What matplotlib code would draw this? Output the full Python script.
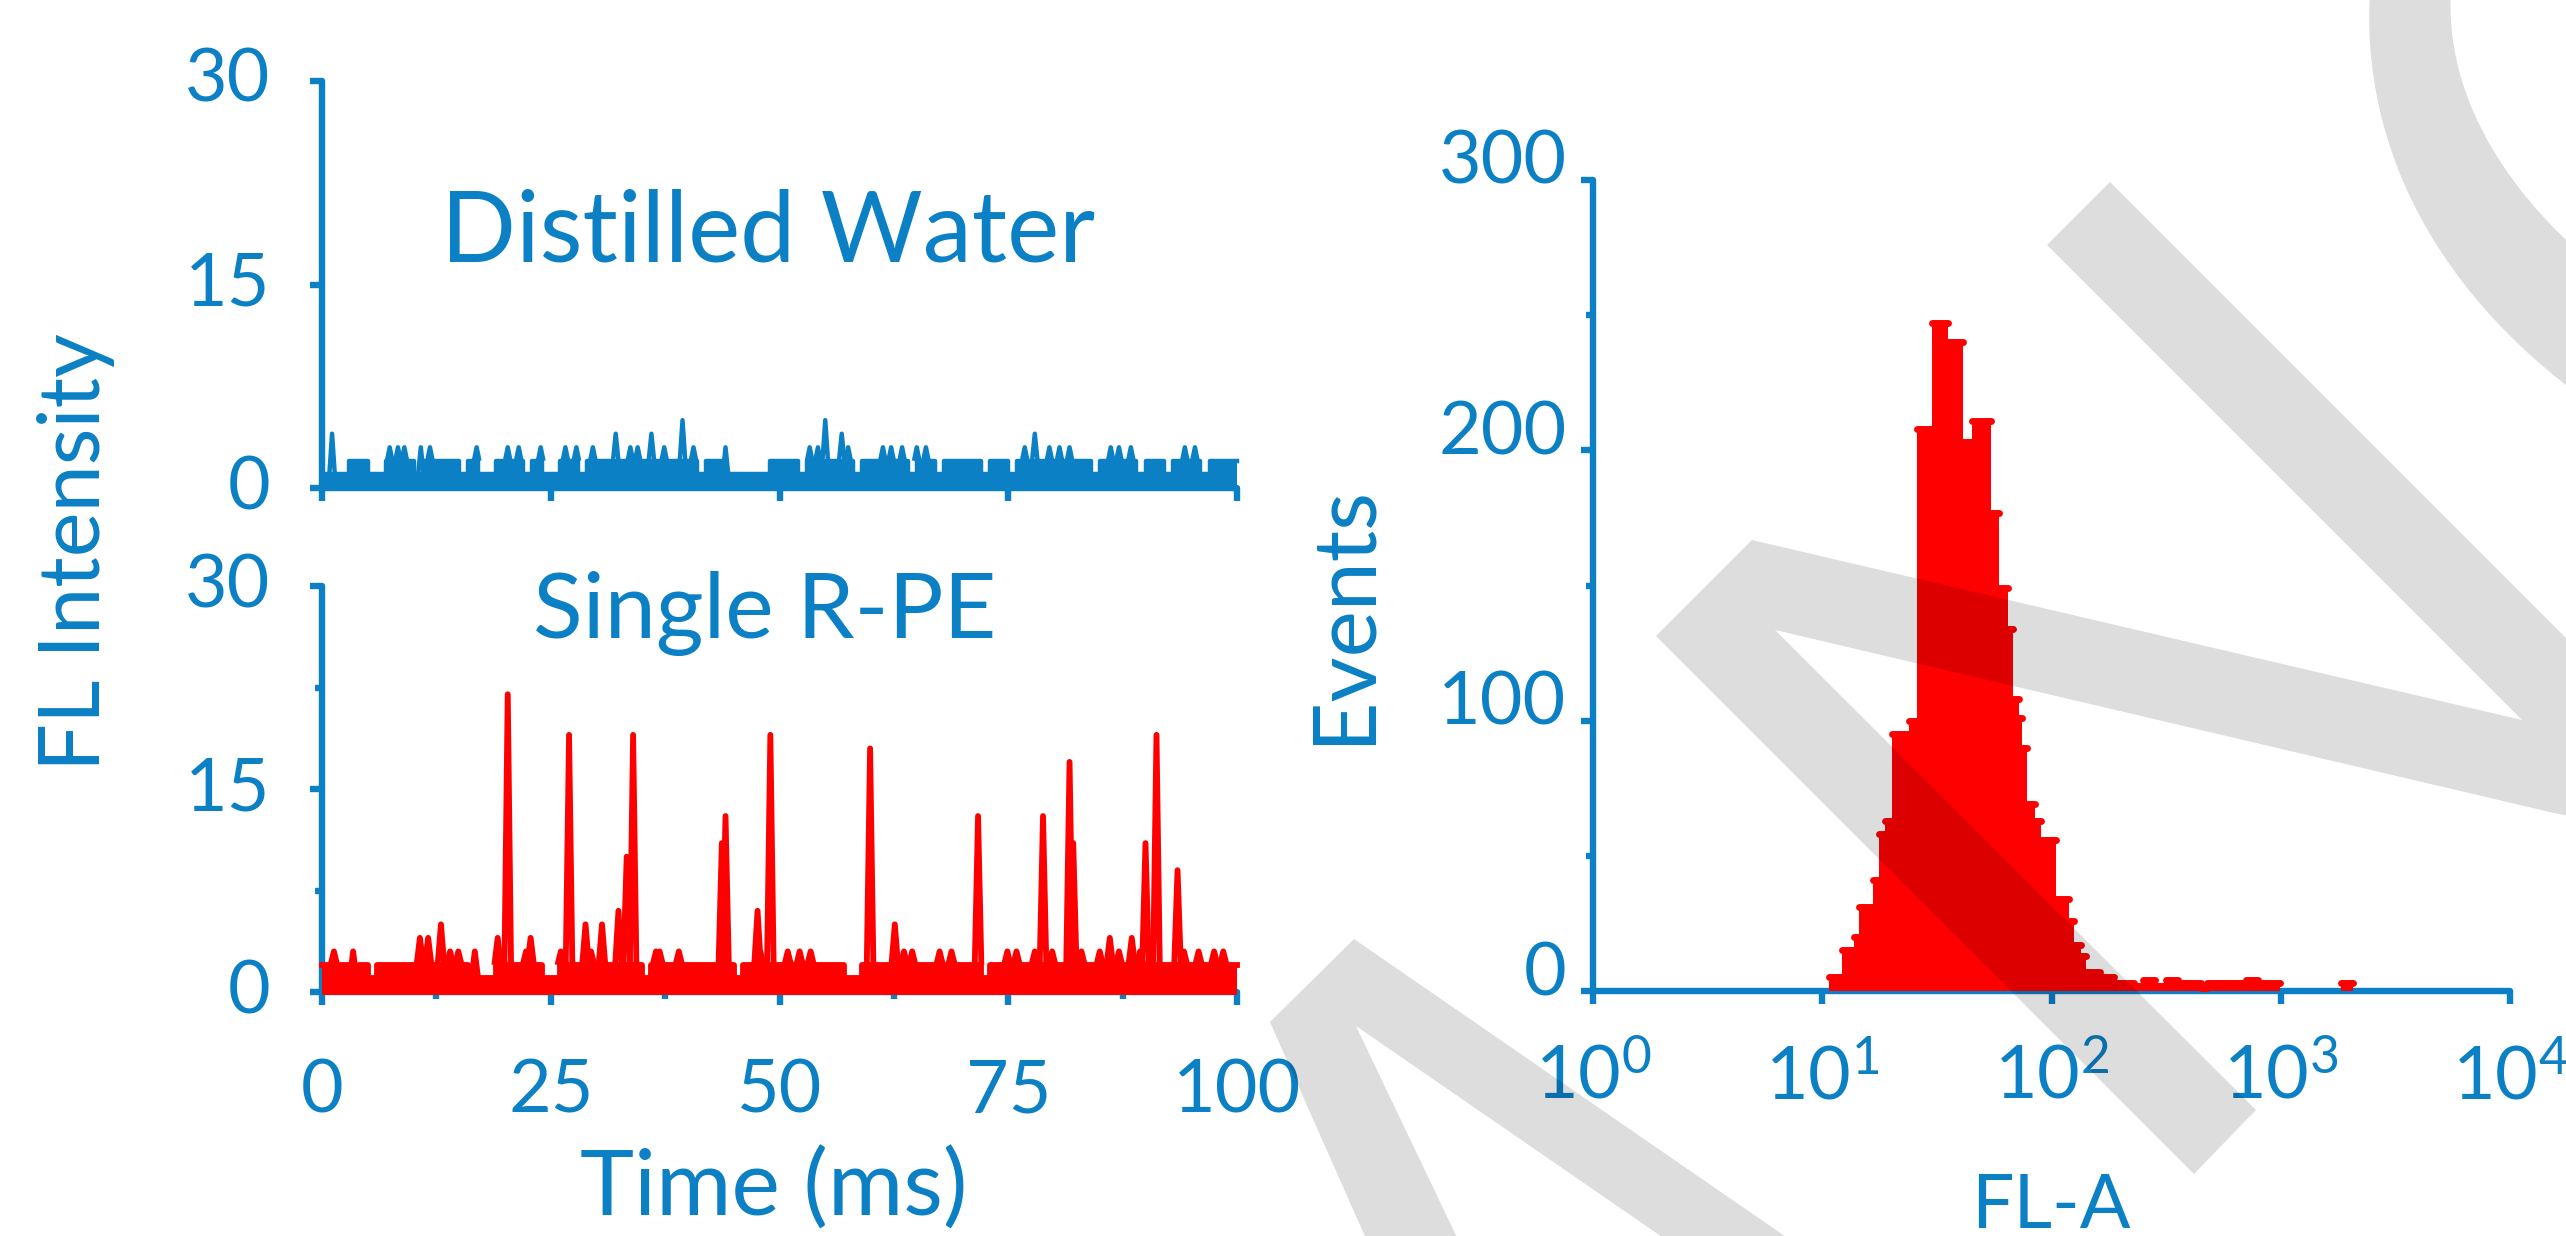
import numpy as np
import matplotlib
matplotlib.use("Agg")
import matplotlib.pyplot as plt
import matplotlib.ticker as mticker
import matplotlib.transforms as mtrans
from matplotlib.patches import Polygon, PathPatch
from matplotlib.path import Path

# ---------------- data ----------------
# time traces: baseline envelope at 1 ms resolution (counts), plus spikes (time ms, counts)
water_baseline = [1, 1, 1, 2, 2, 1, 1, 2, 2, 2,
                  1, 2, 2, 2, 2, 1, 2, 1, 1, 2,
                  2, 2, 1, 2, 1, 1, 2, 2, 1, 2,
                  2, 2, 2, 2, 2, 2, 2, 2, 2, 2,
                  2, 1, 2, 2, 1, 1, 1, 1, 1, 2,
                  2, 2, 1, 2, 2, 2, 2, 2, 1, 2,
                  2, 2, 2, 2, 1, 2, 2, 1, 2, 2,
                  2, 2, 1, 2, 2, 1, 2, 2, 2, 2,
                  2, 2, 2, 2, 1, 2, 2, 2, 2, 1,
                  2, 2, 1, 2, 2, 2, 1, 2, 2, 2]
water_spike_t = [1.1, 7.4, 8.3, 9.0, 10.8, 11.8, 16.9, 20.3, 21.5, 23.9, 26.6, 27.8, 29.6,
                 32.1, 33.7, 34.5, 36.0, 37.4, 39.4, 40.6, 44.1, 53.3, 54.2, 55.0, 56.8,
                 57.5, 61.3, 62.2, 63.4, 65.0, 66.0, 76.8, 77.9, 79.5, 80.6, 81.7, 86.2,
                 87.1, 88.4, 94.3, 95.4]
water_spike_h = [4, 3, 3, 3, 3, 3, 3, 3, 3, 3, 3, 3, 3,
                 4, 3, 3, 4, 3, 5, 3, 3, 3, 3, 5, 4,
                 3, 3, 3, 3, 3, 3, 3, 4, 3, 3, 3, 3,
                 3, 3, 3, 3]

rpe_baseline = [2, 2, 2, 1, 2, 1, 2, 2, 2, 2,
                2, 2, 2, 2, 2, 2, 1, 1, 1, 2,
                2, 2, 2, 2, 1, 1, 2, 2, 2, 2,
                2, 2, 2, 2, 2, 1, 2, 2, 2, 2,
                2, 2, 2, 2, 2, 1, 2, 2, 2, 2,
                2, 2, 2, 2, 2, 2, 2, 1, 1, 2,
                2, 2, 2, 2, 2, 2, 2, 2, 2, 2,
                2, 2, 1, 2, 2, 2, 2, 2, 2, 2,
                2, 2, 2, 2, 2, 2, 2, 2, 2, 2,
                2, 2, 2, 2, 2, 2, 2, 2, 2, 2]
rpe_spike_t = [1.3, 3.4, 10.7, 11.6, 13.0, 14.0, 14.9, 16.7, 19.2, 20.3, 22.3, 22.8, 26.1,
               27.0, 28.8, 29.4, 30.6, 32.4, 33.3, 34.0, 36.5, 36.9, 39.0, 43.7, 44.1,
               47.6, 47.9, 49.0, 50.9, 52.2, 53.4, 59.9, 62.6, 63.6, 64.5, 67.5, 68.8,
               71.7, 74.9, 75.9, 77.9, 78.8, 79.8, 81.7, 82.1, 83.0, 85.0, 86.1, 87.1,
               88.5, 89.4, 90.0, 91.2, 93.5, 94.2, 95.8, 97.5, 98.5]
rpe_spike_h = [3, 3, 4, 4, 5, 3, 3, 3, 4, 22, 3, 4, 3,
               19, 5, 3, 5, 6, 10, 19, 3, 3, 3, 11, 13,
               6, 3, 19, 3, 3, 3, 18, 5, 3, 3, 3, 3,
               13, 3, 3, 3, 13, 3, 17, 11, 3, 3, 4, 3,
               4, 3, 11, 19, 9, 3, 3, 3, 3]

# histogram: FL-A bin edges and event counts
fl_edges = [10.7, 12.2, 13.7, 14.4, 16.7, 17.6, 18.7, 20.2, 24.0, 26.0,
            30.2, 35.5, 41.3, 45.2, 54.2, 59.3, 64.9, 68.2, 71.8, 74.7,
            77.8, 85.1, 89.6, 105, 119, 125, 135, 141, 162, 187,
            228, 251, 282, 316, 355, 398, 447, 479, 562, 631,
            708, 794, 991, 1830, 2060]
events = [5, 15, 20, 31, 41, 58, 63, 95, 100,
          208, 247, 240, 203, 211, 177, 149, 134, 108, 101,
          90, 69, 63, 56, 34, 26, 17, 13, 7, 5,
          3, 2, 4, 2, 4, 3, 3, 1, 3, 3,
          3, 4, 3, 0, 3]

time_ticks = [0, 25, 50, 75, 100]
fl_ticks = [0, 15, 30]
ev_ticks = [0, 100, 200, 300]
fla_ticks = [1, 10, 100, 1000, 10000]

# ---------------- style ----------------
BLUE = "#0b80c4"
RED = "#ff0000"
plt.rcParams["font.family"] = ["Lato", "DejaVu Sans"]
plt.rcParams["font.weight"] = "normal"
plt.rcParams["axes.labelweight"] = "normal"
plt.rcParams["mathtext.fontset"] = "custom"
plt.rcParams["mathtext.rm"] = "Lato"
plt.rcParams["mathtext.default"] = "regular"

W, H = 2566, 1236
DPI = 100
fig = plt.figure(figsize=(W / DPI, H / DPI), dpi=DPI)
fig.patch.set_facecolor("white")


def px_rect(x0, y_bottom, x1, y_top):
    return [x0 / W, 1 - y_bottom / H, (x1 - x0) / W, (y_bottom - y_top) / H]


ax_top = fig.add_axes(px_rect(322, 488, 1237, 81))
ax_bot = fig.add_axes(px_rect(322, 992, 1237, 586))
ax_hist = fig.add_axes(px_rect(1593, 991, 2510, 180))

LW_AX = 4.6
TICK_FS = 53


def style(ax):
    ax.set_facecolor("none")
    for s in ["top", "right"]:
        ax.spines[s].set_visible(False)
    for s in ["left", "bottom"]:
        sp = ax.spines[s]
        sp.set_color(BLUE)
        sp.set_linewidth(LW_AX)
        sp.set_capstyle("round")
        sp.set_zorder(2)
    ax.tick_params(which="both", colors=BLUE, direction="out", width=LW_AX,
                   labelsize=TICK_FS, labelcolor=BLUE)
    ax.tick_params(which="major", length=9)
    ax.tick_params(which="minor", length=5)


def draw_trace(ax, base, st, sh, color, lw, hw):
    base = np.asarray(base, dtype=float)
    t_edges = np.arange(len(base) + 1)
    yb = np.r_[base, base[-1]]
    ax.fill_between(t_edges, 0, yb, step="post", color=color,
                    lw=0, zorder=3, clip_on=False)
    ax.step(t_edges, yb, where="post", color=color, lw=lw, zorder=3, clip_on=False)
    ax.plot([0, len(base)], [0, 0], color=color, lw=lw, zorder=3, clip_on=False,
            solid_capstyle="butt")
    for t, h in zip(st, sh):
        b = base[min(int(t), len(base) - 1)]
        ax.plot([t - hw, t, t + hw], [b, h, b], color=color, lw=lw, zorder=3,
                clip_on=False, solid_joinstyle="round", solid_capstyle="butt")


# --- top: distilled water ---
style(ax_top)
draw_trace(ax_top, water_baseline, water_spike_t, water_spike_h, BLUE, 3.2, 0.3)
ax_top.set_xlim(0, 100)
ax_top.set_ylim(0, 30)
ax_top.set_xticks(time_ticks)
ax_top.tick_params(axis="x", labelbottom=False)
ax_top.set_yticks(fl_ticks)
ax_top.tick_params(axis="y", pad=28)
fig.text(768 / W, 1 - 261 / H, "Distilled Water", ha="center", va="baseline",
         fontsize=71, color=BLUE)

# --- bottom: single R-PE ---
style(ax_bot)
draw_trace(ax_bot, rpe_baseline, rpe_spike_t, rpe_spike_h, RED, 4.2, 0.36)
ax_bot.set_xlim(0, 100)
ax_bot.set_ylim(0, 30)
ax_bot.set_xticks(time_ticks)
ax_bot.xaxis.set_minor_locator(mticker.MultipleLocator(12.5))
ax_bot.set_yticks(fl_ticks)
ax_bot.yaxis.set_minor_locator(mticker.MultipleLocator(7.5))
ax_bot.tick_params(axis="y", pad=28)
ax_bot.tick_params(axis="x", pad=39)
fig.text(765 / W, 1 - 638 / H, "Single R-PE", ha="center", va="baseline",
         fontsize=66, color=BLUE)
ax_bot.set_xlabel("Time (ms)", fontsize=66, color=BLUE)
ax_bot.xaxis.set_label_coords(774 / W, 1 - 1216 / H, transform=fig.transFigure)
ax_bot.xaxis.label.set_va("baseline")
ax_bot.set_ylabel("FL Intensity", fontsize=61, color=BLUE)
ax_bot.yaxis.set_label_coords(76 / W, 1 - 552 / H, transform=fig.transFigure)
ax_bot.yaxis.label.set_va("center")

# --- right: histogram ---
style(ax_hist)
ax_hist.set_xscale("log")
ax_hist.stairs(events, fl_edges, fill=True, color=RED, lw=0, zorder=3, clip_on=False)
tops = [(e, a, b) for e, a, b in zip(events, fl_edges[:-1], fl_edges[1:]) if e > 0]
ax_hist.hlines([t[0] for t in tops], [t[1] for t in tops], [t[2] for t in tops],
               color=RED, lw=5, capstyle="round", zorder=3, clip_on=False)
ax_hist.set_xlim(1, 1e4)
ax_hist.set_ylim(0, 300)
ax_hist.set_xticks(fla_ticks)
ax_hist.xaxis.set_minor_locator(mticker.NullLocator())
ax_hist.xaxis.set_major_formatter(
    mticker.FuncFormatter(lambda v, p: r"$\mathdefault{10^{%d}}$" % int(round(np.log10(v)))))
ax_hist.set_yticks(ev_ticks)
ax_hist.yaxis.set_minor_locator(mticker.MultipleLocator(50))
ax_hist.tick_params(axis="y", pad=10)
ax_hist.tick_params(axis="x", pad=29)
ax_hist.set_xlabel("FL-A", fontsize=54, color=BLUE)
ax_hist.xaxis.set_label_coords(2051 / W, 1 - 1228 / H, transform=fig.transFigure)
ax_hist.xaxis.label.set_va("baseline")
ax_hist.set_ylabel("Events", fontsize=63, color=BLUE)
ax_hist.yaxis.set_label_coords(1344 / W, 1 - 614 / H, transform=fig.transFigure)
ax_hist.yaxis.label.set_va("center")

fig.canvas.draw()


def shift_ylabels(ax, dy_px):
    off = mtrans.ScaledTranslation(0, -dy_px / DPI, fig.dpi_scale_trans)
    for lab in ax.get_yticklabels():
        lab.set_va("baseline")
        lab.set_transform(lab.get_transform() + off)


shift_ylabels(ax_top, 21)
shift_ylabels(ax_bot, 21)
shift_ylabels(ax_hist, 4)

# ---------------- watermark ----------------
def to_fig(pts):
    return [(x / W, 1 - y / H) for x, y in pts]


polys = [
    [(2110, 182), (2620, 692), (2620, 826), (2554, 813), (1775, 630), (2256, 1110),
     (2194, 1174), (1656, 636), (1752, 540), (2522, 720), (2047, 245)],
    [(1354, 939), (1805, 1250), (1681, 1250), (1356, 1026), (1463, 1250), (1371, 1250),
     (1270, 1022)],
]
for shp in polys:
    fig.patches.append(Polygon(to_fig(shp), closed=True, transform=fig.transFigure,
                               facecolor="black", alpha=0.135, lw=0, zorder=10))

arc_pts = [(2370, -10), (2360, 150), (2440, 300), (2600, 410),
           (2600, 270), (2600, 270),
           (2490, 180), (2445, 80), (2451, -10), (2370, -10)]
arc_codes = [Path.MOVETO, Path.CURVE4, Path.CURVE4, Path.CURVE4,
             Path.LINETO, Path.LINETO,
             Path.CURVE4, Path.CURVE4, Path.CURVE4, Path.CLOSEPOLY]
arc_path = Path(to_fig(arc_pts), arc_codes)
fig.patches.append(PathPatch(arc_path, transform=fig.transFigure, facecolor="black",
                             alpha=0.135, lw=0, zorder=10))

fig.savefig("out.png", dpi=DPI, facecolor="white")
